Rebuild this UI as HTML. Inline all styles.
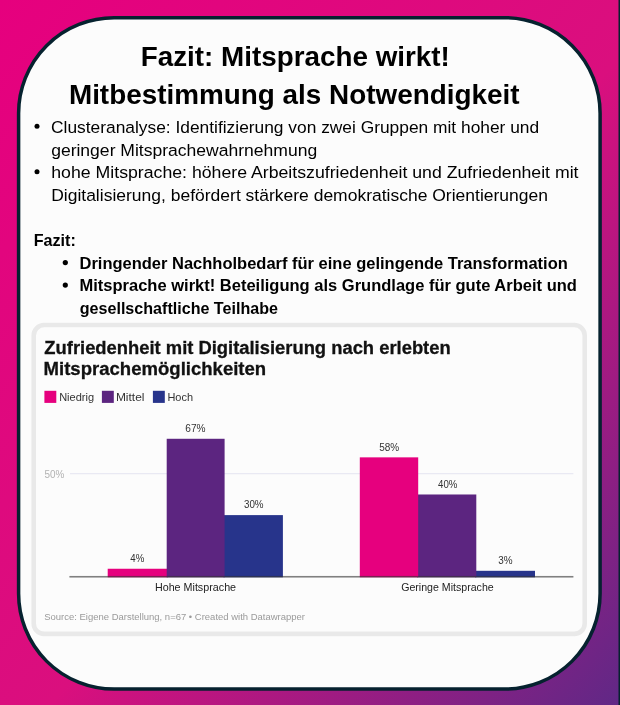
<!DOCTYPE html>
<html lang="de">
<head>
<meta charset="utf-8">
<title>Fazit: Mitsprache wirkt! Mitbestimmung als Notwendigkeit</title>
<style>
html,body{margin:0;padding:0;}
html{background:#fff;}
body{width:620px;height:705px;position:relative;overflow:hidden;
 font-family:"Liberation Sans",sans-serif;
 background:linear-gradient(to bottom right,#e6007e 0%,#da0f7e 54%,#602886 100%);}
svg.shapes{position:absolute;left:0;top:0;width:620px;height:705px;display:block;}
.ln{position:absolute;left:0;top:0;display:block;white-space:nowrap;transform-origin:0 0;line-height:normal;margin:0;padding:0;color:#000;font-weight:400;}
.h{font-weight:700;}
.b{font-weight:700;}
.ct{font-weight:700;color:#111;-webkit-text-stroke:0.3px #111;}
.lg{color:#333;}
.ax{color:#b2b2b2;}
.vl{color:#333;}
.cat{color:#222;}
.src{color:#9a9a9a;}
h1,ul,li,p,figure,figcaption{margin:0;padding:0;list-style:none;font-size:inherit;font-weight:inherit;}
</style>
</head>
<body>
<svg class="shapes" viewBox="0 0 620 705" aria-hidden="true">
<rect x="618.5" y="0" width="1.5" height="705" fill="#06222f"/>
<rect x="18.6" y="17.7" width="581.5" height="671.4" rx="95.5" ry="95.5" fill="#fcfcfc" stroke="#06222f" stroke-width="3.5"/>
<rect x="33.7" y="325.0" width="551.0" height="308.9" rx="10.5" ry="10.5" fill="#fcfcfc" stroke="#e9e9e9" stroke-width="4.6"/>
<circle cx="37.0" cy="126.2" r="2.5" fill="#000"/>
<circle cx="37.0" cy="171.8" r="2.5" fill="#000"/>
<circle cx="65.3" cy="262.6" r="2.6" fill="#000"/>
<circle cx="65.3" cy="285.1" r="2.6" fill="#000"/>
<rect x="44.4" y="390.8" width="11.9" height="12.1" fill="#e6007e"/>
<rect x="101.9" y="390.8" width="11.9" height="12.1" fill="#5c2580"/>
<rect x="152.9" y="390.8" width="11.9" height="12.1" fill="#27348b"/>
<rect x="70" y="473.2" width="503.4" height="1" fill="#e4e4f1"/>
<rect x="107.7" y="568.75" width="60.30" height="8.55" fill="#e6007e"/>
<rect x="223.5" y="515.11" width="59.40" height="62.19" fill="#27348b"/>
<rect x="166.7" y="438.78" width="57.90" height="138.52" fill="#5c2580"/>
<rect x="475.0" y="570.81" width="60.00" height="6.49" fill="#27348b"/>
<rect x="417.0" y="494.48" width="59.30" height="82.82" fill="#5c2580"/>
<rect x="359.8" y="457.35" width="58.40" height="119.95" fill="#e6007e"/>
<rect x="69.4" y="575.95" width="504" height="1.6" fill="#333" fill-opacity="0.62"/>
</svg>
<h1>
<span class="ln h" style="font-size:28.0px;transform:translate(140.74px,41.00px) scaleX(0.9934);">Fazit: Mitsprache wirkt!</span>
<span class="ln h" style="font-size:28.0px;transform:translate(68.91px,79.20px) scaleX(0.9955);">Mitbestimmung als Notwendigkeit</span>
</h1>
<ul>
<li>
<span class="ln p" style="font-size:16.7px;transform:translate(51.03px,118.20px) scaleX(1.0400);">Clusteranalyse: Identifizierung von zwei Gruppen mit hoher und</span>
<span class="ln p" style="font-size:16.7px;transform:translate(51.14px,140.80px) scaleX(1.0506);">geringer Mitsprachewahrnehmung</span>
</li>
<li>
<span class="ln p" style="font-size:16.7px;transform:translate(51.26px,163.30px) scaleX(1.0604);">hohe Mitsprache: höhere Arbeitszufriedenheit und Zufriedenheit mit</span>
<span class="ln p" style="font-size:16.7px;transform:translate(51.15px,185.90px) scaleX(1.0482);">Digitalisierung, befördert stärkere demokratische Orientierungen</span>
</li>
</ul>
<p>
<span class="ln p b" style="font-size:16.4px;transform:translate(33.63px,230.80px) scaleX(0.9846);">Fazit:</span>
</p>
<ul>
<li>
<span class="ln p b" style="font-size:16.4px;transform:translate(79.49px,253.70px) scaleX(1.0060);">Dringender Nachholbedarf für eine gelingende Transformation</span>
</li>
<li>
<span class="ln p b" style="font-size:16.4px;transform:translate(79.49px,276.20px) scaleX(1.0071);">Mitsprache wirkt! Beteiligung als Grundlage für gute Arbeit und</span>
<span class="ln p b" style="font-size:16.4px;transform:translate(79.74px,298.60px) scaleX(0.9816);">gesellschaftliche Teilhabe</span>
</li>
</ul>
<figure>
<figcaption>
<span class="ln ct" style="font-size:18.7px;transform:translate(44.31px,336.60px) scaleX(0.9833);">Zufriedenheit mit Digitalisierung nach erlebten</span>
<span class="ln ct" style="font-size:18.7px;transform:translate(43.60px,358.40px) scaleX(0.9923);">Mitsprachemöglichkeiten</span>
</figcaption>
<span class="ln lg" style="font-size:10.6px;transform:translate(59.16px,390.60px) scaleX(1.0411);">Niedrig</span>
<span class="ln lg" style="font-size:10.6px;transform:translate(115.89px,390.60px) scaleX(1.1313);">Mittel</span>
<span class="ln lg" style="font-size:10.6px;transform:translate(167.38px,390.60px) scaleX(1.0352);">Hoch</span>
<span class="ln ax" style="font-size:10.6px;transform:translate(44.50px,467.50px) scaleX(0.9368);">50%</span>
<span class="ln vl" style="font-size:10.6px;transform:translate(130.28px,551.90px) scaleX(0.9146);">4%</span>
<span class="ln vl" style="font-size:10.6px;transform:translate(185.30px,422.40px) scaleX(0.9554);">67%</span>
<span class="ln vl" style="font-size:10.6px;transform:translate(243.96px,498.30px) scaleX(0.9240);">30%</span>
<span class="ln vl" style="font-size:10.6px;transform:translate(379.17px,440.80px) scaleX(0.9436);">58%</span>
<span class="ln vl" style="font-size:10.6px;transform:translate(438.10px,478.00px) scaleX(0.9117);">40%</span>
<span class="ln vl" style="font-size:10.6px;transform:translate(498.36px,553.80px) scaleX(0.9360);">3%</span>
<span class="ln cat" style="font-size:10.6px;transform:translate(154.90px,581.00px) scaleX(1.0137);">Hohe Mitsprache</span>
<span class="ln cat" style="font-size:10.6px;transform:translate(401.16px,581.00px) scaleX(1.0009);">Geringe Mitsprache</span>
<span class="ln src" style="font-size:9.7px;transform:translate(44.14px,611.20px) scaleX(0.9790);">Source: Eigene Darstellung, n=67 • Created with Datawrapper</span>
</figure>
</body>
</html>
